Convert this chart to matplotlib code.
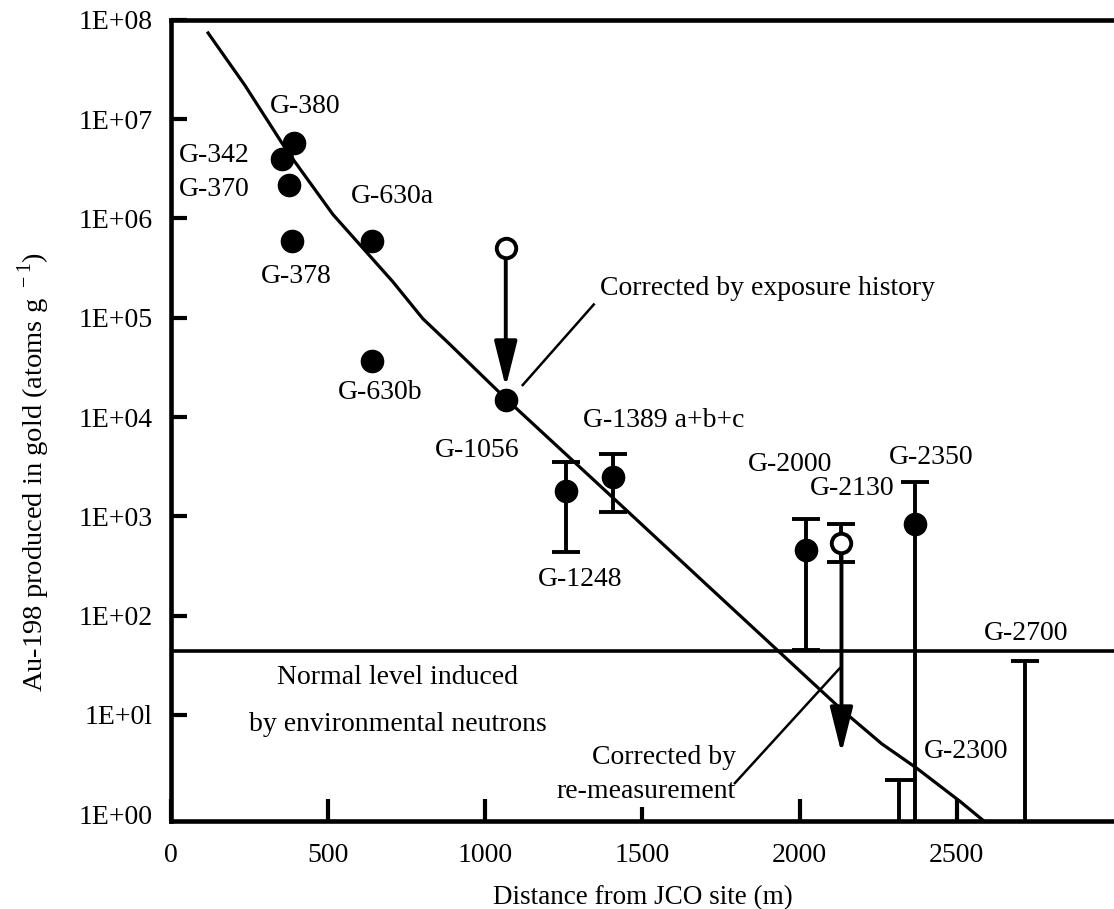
import matplotlib
matplotlib.use('Agg')
import matplotlib.pyplot as plt

plt.rcParams['font.family'] = ['Liberation Serif', 'DejaVu Serif']
plt.rcParams['mathtext.fontset'] = 'custom'
plt.rcParams['mathtext.rm'] = 'Liberation Serif'

# fitted curve (distance m, atoms/g)
curve_x = [118, 235, 369, 515, 706, 801, 887, 1068, 1400, 1700, 2064, 2137, 2261, 2372, 2509, 2590]
curve_y = [7.4e7, 2.2e7, 4.8e6, 1.1e6, 2.3e5, 9.8e4, 5.4e4, 1.5e4, 1.6e3, 2.1e2, 18, 11, 5.1, 2.9, 1.35, 0.83]

# plain measured points
pt_x = [353, 391, 375, 385, 639, 639, 1065]
pt_y = [4.0e6, 5.7e6, 2.2e6, 6.0e5, 6.0e5, 3.7e4, 1.5e4]

# points with error bars
err_x = [1256, 1405, 2019, 2366]
err_y = [1.8e3, 2.5e3, 460, 830]
err_lo = [440, 1.1e3, 45, 0.3]
err_hi = [3.5e3, 4.2e3, 930, 2.2e3]

# open circles (before correction)
open_x = [1065, 2133]
open_y = [5.0e5, 540]
open_lo = [None, 350]
open_hi = [None, 830]
corrected_y = [2.0e4, 4.1]

# upper limits
lim_x = [2315, 2718]
lim_y = [2.2, 35]

normal_level = 44

labels = [
    ('G-380', 426, 1.35e7), ('G-342', 137, 4.3e6), ('G-370', 137, 1.95e6),
    ('G-378', 397, 2.6e5), ('G-630a', 703, 1.65e6), ('G-630b', 665, 1.75e4),
    ('G-1056', 973, 4.6e3), ('G-1389 a+b+c', 1568, 9.3e3), ('G-1248', 1300, 2.3e2),
    ('G-2000', 1971, 3.3e3), ('G-2130', 2168, 1.9e3), ('G-2350', 2417, 3.9e3),
    ('G-2700', 2719, 66), ('G-2300', 2528, 4.3),
]

fig = plt.figure(figsize=(11.14, 9.09), dpi=100)
ax = fig.add_axes([0.1535, 0.0968, 0.8465, 0.8812])
ax.set_yscale('log')
ax.set_xlim(0, 3000)
ax.set_ylim(0.85, 1e8)

lw = 2.3
ax.plot(curve_x, curve_y, color='black', lw=lw, zorder=3)
ax.axhline(normal_level, color='black', lw=2.6, zorder=2)

ax.plot(pt_x, pt_y, 'o', color='black', ms=16, zorder=4)

for x, y, lo, hi in zip(err_x, err_y, err_lo, err_hi):
    ax.errorbar([x], [y], yerr=[[y - lo], [hi - y]], fmt='o', color='black', ms=16,
                elinewidth=lw + 0.5, capsize=10, capthick=lw + 0.5, zorder=4)

for x, top in zip(lim_x, lim_y):
    ax.errorbar([x], [top], yerr=[[top - 0.3], [0]], fmt='none', ecolor='black',
                elinewidth=lw + 0.5, capsize=10, capthick=lw + 0.5, zorder=4)

# open circles and correction arrows
for x, y, lo, hi, yc in zip(open_x, open_y, open_lo, open_hi, corrected_y):
    if lo is not None:
        ax.errorbar([x], [y], yerr=[[y - lo], [hi - y]], fmt='none', ecolor='black',
                    elinewidth=lw + 0.5, capsize=10, capthick=lw + 0.5, zorder=4)
    ax.annotate('', xy=(x, yc), xytext=(x, y),
                arrowprops=dict(arrowstyle='-|>,head_length=1.4,head_width=0.35',
                                mutation_scale=20, lw=lw + 0.5, color='black',
                                shrinkA=7, shrinkB=0), zorder=5)
    ax.plot([x], [y], 'o', ms=14, mfc='white', mec='black', mew=2.8, zorder=6)

# pointer lines
ax.plot([1119, 1345], [2.1e4, 1.36e5], color='black', lw=1.8, zorder=3)
ax.plot([1794, 2127], [2.05, 29.3], color='black', lw=1.8, zorder=3)

fs = 20
for txt, x, y in labels:
    ax.text(x, y, txt, fontsize=fs, ha='center', va='center')

ax.text(1364, 1.95e5, 'Corrected by exposure history', fontsize=fs, ha='left', va='center')
ax.text(1796, 3.7, 'Corrected by', fontsize=fs, ha='right', va='center')
ax.text(1796, 1.7, 're-measurement', fontsize=fs, ha='right', va='center')
ax.text(722, 23.7, 'Normal level induced', fontsize=fs, ha='center', va='center')
ax.text(722, 7.9, 'by environmental neutrons', fontsize=fs, ha='center', va='center')

ax.set_xticks([0, 500, 1000, 1500, 2000, 2500])
ax.set_xticklabels(['0', '500', '1000', '1500', '2000', '2500'])
ax.set_yticks([1, 10, 1e2, 1e3, 1e4, 1e5, 1e6, 1e7, 1e8])
ax.set_yticklabels(['1E+00', '1E+0l', '1E+02', '1E+03', '1E+04', '1E+05',
                    '1E+06', '1E+07', '1E+08'])
ax.minorticks_off()
ax.tick_params(axis='both', direction='in', width=3, labelsize=fs)
ax.tick_params(axis='y', length=11.5, pad=13.5)
ax.tick_params(axis='x', length=15.5, pad=16)
ax.yaxis.get_major_ticks()[0].tick1line.set_visible(False)
ax.xaxis.get_major_ticks()[3].tick1line.set_markersize(10)

for s in ['left', 'top', 'bottom']:
    ax.spines[s].set_linewidth(3.3)
ax.spines['right'].set_visible(False)

ax.set_xlabel('Distance from JCO site (m)', fontsize=19.5, labelpad=12)
ax.set_ylabel('Au-198 produced in gold (atoms g$^{\\ -1}$)', fontsize=20.5)
ax.yaxis.set_label_coords(-0.126, 0.436)

fig.savefig('out.png', dpi=100)
